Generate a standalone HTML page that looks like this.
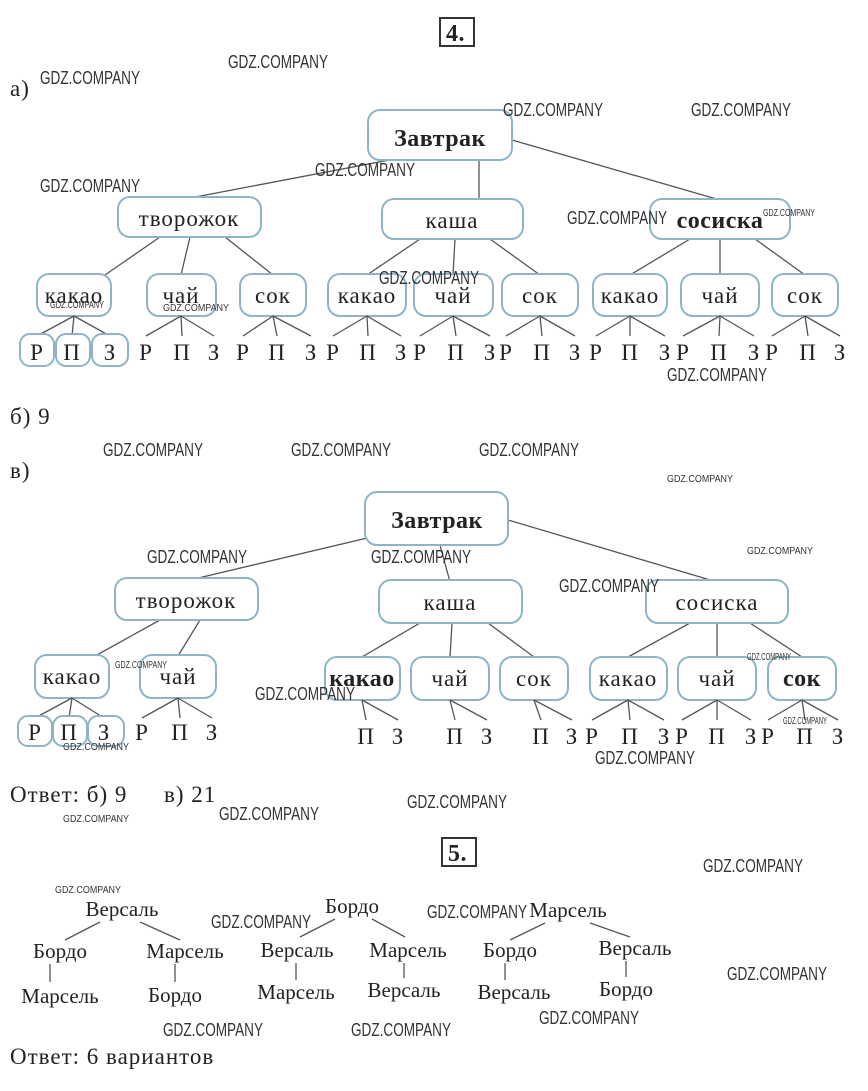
<!DOCTYPE html>
<html><head><meta charset="utf-8"><style>
html,body{margin:0;padding:0;background:#fff;}
svg{display:block}
.t{font-family:"Liberation Serif",serif;font-size:23px;letter-spacing:1px;fill:#222}
.t2{font-family:"Liberation Serif",serif;font-size:21px;fill:#222}
.b{font-family:"Liberation Serif",serif;font-size:24px;letter-spacing:0.5px;fill:#222;font-weight:bold}
.w{font-family:"Liberation Sans",sans-serif;font-size:18px;fill:#333}
.ws{font-family:"Liberation Sans",sans-serif;font-size:10px;fill:#333}
rect.n{fill:#fff;stroke:#8db5c6;stroke-width:2}
line{stroke:#555;stroke-width:1.3}
</style></head><body>
<svg width="868" height="1091" viewBox="0 0 868 1091" xmlns="http://www.w3.org/2000/svg">
<rect x="440" y="18" width="34" height="28" fill="none" stroke="#333" stroke-width="2"/>
<text class="b" x="446" y="41">4.</text>
<text class="t" x="10" y="96">а)</text>

<g>
<line x1="400" y1="158" x2="190" y2="198"/><line x1="479" y1="160" x2="479" y2="200"/><line x1="512" y1="140" x2="720" y2="200"/>
<line x1="160" y1="237" x2="105" y2="275"/><line x1="190" y1="237" x2="181" y2="275"/><line x1="225" y1="237" x2="273" y2="275"/>
<line x1="420" y1="239" x2="367" y2="275"/><line x1="455" y1="239" x2="453" y2="275"/><line x1="490" y1="239" x2="540" y2="275"/>
<line x1="690" y1="239" x2="630" y2="275"/><line x1="720" y1="239" x2="720" y2="275"/><line x1="755" y1="239" x2="805" y2="275"/>
</g>
<rect class="n" x="368" y="110" width="144" height="50" rx="12"/><text class="b" x="440" y="146" text-anchor="middle">Завтрак</text>
<rect class="n" x="118" y="197" width="143" height="40" rx="12"/><text class="t" x="189" y="226" text-anchor="middle">творожок</text>
<rect class="n" x="382" y="199" width="141" height="40" rx="12"/><text class="t" x="452" y="228" text-anchor="middle">каша</text>
<rect class="n" x="650" y="199" width="140" height="40" rx="12"/><text class="b" x="720" y="228" text-anchor="middle">сосиска</text>

<g>
<rect class="n" x="37" y="274" width="74" height="42" rx="12"/><text class="t" x="74" y="303" text-anchor="middle">какао</text>
<rect class="n" x="147" y="274" width="69" height="42" rx="12"/><text class="t" x="181" y="303" text-anchor="middle">чай</text>
<rect class="n" x="240" y="274" width="66" height="42" rx="12"/><text class="t" x="273" y="303" text-anchor="middle">сок</text>
<rect class="n" x="328" y="274" width="78" height="42" rx="12"/><text class="t" x="367" y="303" text-anchor="middle">какао</text>
<rect class="n" x="414" y="274" width="79" height="42" rx="12"/><text class="t" x="453" y="303" text-anchor="middle">чай</text>
<rect class="n" x="502" y="274" width="76" height="42" rx="12"/><text class="t" x="540" y="303" text-anchor="middle">сок</text>
<rect class="n" x="593" y="274" width="74" height="42" rx="12"/><text class="t" x="630" y="303" text-anchor="middle">какао</text>
<rect class="n" x="681" y="274" width="78" height="42" rx="12"/><text class="t" x="720" y="303" text-anchor="middle">чай</text>
<rect class="n" x="772" y="274" width="66" height="42" rx="12"/><text class="t" x="805" y="303" text-anchor="middle">сок</text>
</g>
<g>
<line x1="74" y1="316" x2="37" y2="336"/><line x1="74" y1="316" x2="72" y2="336"/><line x1="74" y1="316" x2="110" y2="336"/>
<rect class="n" x="20" y="334" width="34" height="32" rx="10" stroke-width="1.5"/><rect class="n" x="56" y="334" width="34" height="32" rx="10" stroke-width="1.5"/><rect class="n" x="92" y="334" width="36" height="32" rx="10" stroke-width="1.5"/>
<text class="t" x="37" y="360" text-anchor="middle">Р</text><text class="t" x="72" y="360" text-anchor="middle">П</text><text class="t" x="110" y="360" text-anchor="middle">З</text>
<line x1="181" y1="316" x2="146" y2="336"/><line x1="181" y1="316" x2="182" y2="336"/><line x1="181" y1="316" x2="214" y2="336"/>
<text class="t" x="146" y="360" text-anchor="middle">Р</text><text class="t" x="182" y="360" text-anchor="middle">П</text><text class="t" x="214" y="360" text-anchor="middle">З</text>
<line x1="273" y1="316" x2="243" y2="336"/><line x1="273" y1="316" x2="277" y2="336"/><line x1="273" y1="316" x2="311" y2="336"/>
<text class="t" x="243" y="360" text-anchor="middle">Р</text><text class="t" x="277" y="360" text-anchor="middle">П</text><text class="t" x="311" y="360" text-anchor="middle">З</text>
<line x1="367" y1="316" x2="333" y2="336"/><line x1="367" y1="316" x2="368" y2="336"/><line x1="367" y1="316" x2="401" y2="336"/>
<text class="t" x="333" y="360" text-anchor="middle">Р</text><text class="t" x="368" y="360" text-anchor="middle">П</text><text class="t" x="401" y="360" text-anchor="middle">З</text>
<line x1="453" y1="316" x2="420" y2="336"/><line x1="453" y1="316" x2="456" y2="336"/><line x1="453" y1="316" x2="490" y2="336"/>
<text class="t" x="420" y="360" text-anchor="middle">Р</text><text class="t" x="456" y="360" text-anchor="middle">П</text><text class="t" x="490" y="360" text-anchor="middle">З</text>
<line x1="540" y1="316" x2="506" y2="336"/><line x1="540" y1="316" x2="542" y2="336"/><line x1="540" y1="316" x2="575" y2="336"/>
<text class="t" x="506" y="360" text-anchor="middle">Р</text><text class="t" x="542" y="360" text-anchor="middle">П</text><text class="t" x="575" y="360" text-anchor="middle">З</text>
<line x1="630" y1="316" x2="596" y2="336"/><line x1="630" y1="316" x2="630" y2="336"/><line x1="630" y1="316" x2="665" y2="336"/>
<text class="t" x="596" y="360" text-anchor="middle">Р</text><text class="t" x="630" y="360" text-anchor="middle">П</text><text class="t" x="665" y="360" text-anchor="middle">З</text>
<line x1="720" y1="316" x2="683" y2="336"/><line x1="720" y1="316" x2="719" y2="336"/><line x1="720" y1="316" x2="754" y2="336"/>
<text class="t" x="683" y="360" text-anchor="middle">Р</text><text class="t" x="719" y="360" text-anchor="middle">П</text><text class="t" x="754" y="360" text-anchor="middle">З</text>
<line x1="805" y1="316" x2="772" y2="336"/><line x1="805" y1="316" x2="808" y2="336"/><line x1="805" y1="316" x2="840" y2="336"/>
<text class="t" x="772" y="360" text-anchor="middle">Р</text><text class="t" x="808" y="360" text-anchor="middle">П</text><text class="t" x="840" y="360" text-anchor="middle">З</text>
</g>

<text class="t" x="10" y="424">б) 9</text>
<text class="t" x="10" y="478">в)</text>

<g>
<line x1="380" y1="535" x2="190" y2="580"/><line x1="440" y1="545" x2="450" y2="582"/><line x1="508" y1="520" x2="717" y2="582"/>
<line x1="160" y1="620" x2="95" y2="656"/><line x1="200" y1="620" x2="178" y2="656"/>
<line x1="420" y1="623" x2="362" y2="657"/><line x1="452" y1="623" x2="450" y2="657"/><line x1="488" y1="623" x2="534" y2="657"/>
<line x1="690" y1="623" x2="628" y2="657"/><line x1="717" y1="623" x2="717" y2="657"/><line x1="750" y1="623" x2="802" y2="657"/>
</g>
<rect class="n" x="365" y="492" width="143" height="53" rx="12"/><text class="b" x="437" y="528" text-anchor="middle">Завтрак</text>
<rect class="n" x="115" y="578" width="143" height="42" rx="12"/><text class="t" x="186" y="608" text-anchor="middle">творожок</text>
<rect class="n" x="379" y="580" width="143" height="43" rx="12"/><text class="t" x="450" y="610" text-anchor="middle">каша</text>
<rect class="n" x="646" y="580" width="142" height="43" rx="12"/><text class="t" x="717" y="610" text-anchor="middle">сосиска</text>
<g>
<rect class="n" x="35" y="655" width="74" height="43" rx="12"/><text class="t" x="72" y="684" text-anchor="middle">какао</text>
<rect class="n" x="140" y="655" width="76" height="43" rx="12"/><text class="t" x="178" y="684" text-anchor="middle">чай</text>
<rect class="n" x="325" y="657" width="75" height="43" rx="12"/><text class="b" x="362" y="686" text-anchor="middle">какао</text>
<rect class="n" x="411" y="657" width="78" height="43" rx="12"/><text class="t" x="450" y="686" text-anchor="middle">чай</text>
<rect class="n" x="500" y="657" width="68" height="43" rx="12"/><text class="t" x="534" y="686" text-anchor="middle">сок</text>
<rect class="n" x="590" y="657" width="77" height="43" rx="12"/><text class="t" x="628" y="686" text-anchor="middle">какао</text>
<rect class="n" x="678" y="657" width="78" height="43" rx="12"/><text class="t" x="717" y="686" text-anchor="middle">чай</text>
<rect class="n" x="768" y="657" width="68" height="43" rx="12"/><text class="b" x="802" y="686" text-anchor="middle">сок</text>
</g>
<g>
<line x1="72" y1="698" x2="35" y2="718"/><line x1="72" y1="698" x2="69" y2="718"/><line x1="72" y1="698" x2="104" y2="718"/>
<rect class="n" x="18" y="716" width="34" height="30" rx="10" stroke-width="1.5"/><rect class="n" x="53" y="716" width="34" height="30" rx="10" stroke-width="1.5"/><rect class="n" x="88" y="716" width="36" height="30" rx="10" stroke-width="1.5"/>
<text class="t" x="35" y="740" text-anchor="middle">Р</text><text class="t" x="69" y="740" text-anchor="middle">П</text><text class="t" x="104" y="740" text-anchor="middle">З</text>
<line x1="178" y1="698" x2="142" y2="718"/><line x1="178" y1="698" x2="180" y2="718"/><line x1="178" y1="698" x2="212" y2="718"/>
<text class="t" x="142" y="740" text-anchor="middle">Р</text><text class="t" x="180" y="740" text-anchor="middle">П</text><text class="t" x="212" y="740" text-anchor="middle">З</text>
<line x1="362" y1="700" x2="366" y2="720"/><line x1="362" y1="700" x2="398" y2="720"/>
<text class="t" x="366" y="744" text-anchor="middle">П</text><text class="t" x="398" y="744" text-anchor="middle">З</text>
<line x1="450" y1="700" x2="455" y2="720"/><line x1="450" y1="700" x2="487" y2="720"/>
<text class="t" x="455" y="744" text-anchor="middle">П</text><text class="t" x="487" y="744" text-anchor="middle">З</text>
<line x1="534" y1="700" x2="541" y2="720"/><line x1="534" y1="700" x2="572" y2="720"/>
<text class="t" x="541" y="744" text-anchor="middle">П</text><text class="t" x="572" y="744" text-anchor="middle">З</text>
<line x1="628" y1="700" x2="592" y2="720"/><line x1="628" y1="700" x2="630" y2="720"/><line x1="628" y1="700" x2="664" y2="720"/>
<text class="t" x="592" y="744" text-anchor="middle">Р</text><text class="t" x="630" y="744" text-anchor="middle">П</text><text class="t" x="664" y="744" text-anchor="middle">З</text>
<line x1="717" y1="700" x2="682" y2="720"/><line x1="717" y1="700" x2="717" y2="720"/><line x1="717" y1="700" x2="751" y2="720"/>
<text class="t" x="682" y="744" text-anchor="middle">Р</text><text class="t" x="717" y="744" text-anchor="middle">П</text><text class="t" x="751" y="744" text-anchor="middle">З</text>
<line x1="802" y1="700" x2="768" y2="720"/><line x1="802" y1="700" x2="805" y2="720"/><line x1="802" y1="700" x2="838" y2="720"/>
<text class="t" x="768" y="744" text-anchor="middle">Р</text><text class="t" x="805" y="744" text-anchor="middle">П</text><text class="t" x="838" y="744" text-anchor="middle">З</text>
</g>

<text class="t" x="10" y="802">Ответ: б) 9</text>
<text class="t" x="164" y="802">в) 21</text>

<rect x="442" y="838" width="34" height="28" fill="none" stroke="#333" stroke-width="2"/>
<text class="b" x="448" y="861">5.</text>

<g>
<text class="t2" x="122" y="916" text-anchor="middle">Версаль</text>
<line x1="100" y1="922" x2="65" y2="940"/><line x1="140" y1="922" x2="180" y2="940"/>
<text class="t2" x="60" y="958" text-anchor="middle">Бордо</text><text class="t2" x="185" y="958" text-anchor="middle">Марсель</text>
<line x1="50" y1="964" x2="50" y2="982"/><line x1="175" y1="964" x2="175" y2="982"/>
<text class="t2" x="60" y="1003" text-anchor="middle">Марсель</text><text class="t2" x="175" y="1002" text-anchor="middle">Бордо</text>

<text class="t2" x="352" y="913" text-anchor="middle">Бордо</text>
<line x1="335" y1="919" x2="300" y2="937"/><line x1="372" y1="919" x2="405" y2="937"/>
<text class="t2" x="297" y="957" text-anchor="middle">Версаль</text><text class="t2" x="408" y="957" text-anchor="middle">Марсель</text>
<line x1="296" y1="963" x2="296" y2="980"/><line x1="404" y1="963" x2="404" y2="978"/>
<text class="t2" x="296" y="999" text-anchor="middle">Марсель</text><text class="t2" x="404" y="997" text-anchor="middle">Версаль</text>

<text class="t2" x="568" y="917" text-anchor="middle">Марсель</text>
<line x1="545" y1="923" x2="510" y2="940"/><line x1="590" y1="923" x2="630" y2="937"/>
<text class="t2" x="510" y="957" text-anchor="middle">Бордо</text><text class="t2" x="635" y="955" text-anchor="middle">Версаль</text>
<line x1="505" y1="963" x2="505" y2="980"/><line x1="626" y1="961" x2="626" y2="977"/>
<text class="t2" x="514" y="999" text-anchor="middle">Версаль</text><text class="t2" x="626" y="996" text-anchor="middle">Бордо</text>
</g>

<text class="t" x="10" y="1064">Ответ: 6 вариантов</text>

<g>
<text class="w" textLength="100" lengthAdjust="spacingAndGlyphs" x="40" y="84">GDZ.COMPANY</text>
<text class="w" textLength="100" lengthAdjust="spacingAndGlyphs" x="228" y="68">GDZ.COMPANY</text>
<text class="w" textLength="100" lengthAdjust="spacingAndGlyphs" x="503" y="116">GDZ.COMPANY</text>
<text class="w" textLength="100" lengthAdjust="spacingAndGlyphs" x="691" y="116">GDZ.COMPANY</text>
<text class="w" textLength="100" lengthAdjust="spacingAndGlyphs" x="315" y="176">GDZ.COMPANY</text>
<text class="w" textLength="100" lengthAdjust="spacingAndGlyphs" x="40" y="192">GDZ.COMPANY</text>
<text class="w" textLength="100" lengthAdjust="spacingAndGlyphs" x="567" y="224">GDZ.COMPANY</text>
<text class="ws" textLength="52" lengthAdjust="spacingAndGlyphs" x="763" y="216">GDZ.COMPANY</text>
<text class="w" textLength="100" lengthAdjust="spacingAndGlyphs" x="379" y="284">GDZ.COMPANY</text>
<text class="ws" textLength="66" lengthAdjust="spacingAndGlyphs" x="163" y="311">GDZ.COMPANY</text>
<text class="ws" textLength="54" lengthAdjust="spacingAndGlyphs" x="50" y="308">GDZ.COMPANY</text>
<text class="w" textLength="100" lengthAdjust="spacingAndGlyphs" x="667" y="381">GDZ.COMPANY</text>
<text class="w" textLength="100" lengthAdjust="spacingAndGlyphs" x="103" y="456">GDZ.COMPANY</text>
<text class="w" textLength="100" lengthAdjust="spacingAndGlyphs" x="291" y="456">GDZ.COMPANY</text>
<text class="w" textLength="100" lengthAdjust="spacingAndGlyphs" x="479" y="456">GDZ.COMPANY</text>
<text class="ws" textLength="66" lengthAdjust="spacingAndGlyphs" x="667" y="482">GDZ.COMPANY</text>
<text class="w" textLength="100" lengthAdjust="spacingAndGlyphs" x="147" y="563">GDZ.COMPANY</text>
<text class="w" textLength="100" lengthAdjust="spacingAndGlyphs" x="371" y="563">GDZ.COMPANY</text>
<text class="ws" textLength="66" lengthAdjust="spacingAndGlyphs" x="747" y="554">GDZ.COMPANY</text>
<text class="w" textLength="100" lengthAdjust="spacingAndGlyphs" x="559" y="592">GDZ.COMPANY</text>
<text class="ws" textLength="52" lengthAdjust="spacingAndGlyphs" x="115" y="668">GDZ.COMPANY</text>
<text class="ws" textLength="44" lengthAdjust="spacingAndGlyphs" x="747" y="660">GDZ.COMPANY</text>
<text class="w" textLength="100" lengthAdjust="spacingAndGlyphs" x="255" y="700">GDZ.COMPANY</text>
<text class="ws" textLength="44" lengthAdjust="spacingAndGlyphs" x="783" y="724">GDZ.COMPANY</text>
<text class="ws" textLength="66" lengthAdjust="spacingAndGlyphs" x="63" y="750">GDZ.COMPANY</text>
<text class="w" textLength="100" lengthAdjust="spacingAndGlyphs" x="595" y="764">GDZ.COMPANY</text>
<text class="w" textLength="100" lengthAdjust="spacingAndGlyphs" x="407" y="808">GDZ.COMPANY</text>
<text class="w" textLength="100" lengthAdjust="spacingAndGlyphs" x="219" y="820">GDZ.COMPANY</text>
<text class="ws" textLength="66" lengthAdjust="spacingAndGlyphs" x="63" y="822">GDZ.COMPANY</text>
<text class="w" textLength="100" lengthAdjust="spacingAndGlyphs" x="703" y="872">GDZ.COMPANY</text>
<text class="ws" textLength="66" lengthAdjust="spacingAndGlyphs" x="55" y="893">GDZ.COMPANY</text>
<text class="w" textLength="100" lengthAdjust="spacingAndGlyphs" x="211" y="928">GDZ.COMPANY</text>
<text class="w" textLength="100" lengthAdjust="spacingAndGlyphs" x="427" y="918">GDZ.COMPANY</text>
<text class="w" textLength="100" lengthAdjust="spacingAndGlyphs" x="727" y="980">GDZ.COMPANY</text>
<text class="w" textLength="100" lengthAdjust="spacingAndGlyphs" x="539" y="1024">GDZ.COMPANY</text>
<text class="w" textLength="100" lengthAdjust="spacingAndGlyphs" x="163" y="1036">GDZ.COMPANY</text>
<text class="w" textLength="100" lengthAdjust="spacingAndGlyphs" x="351" y="1036">GDZ.COMPANY</text>
</g>
</svg>
</body></html>
